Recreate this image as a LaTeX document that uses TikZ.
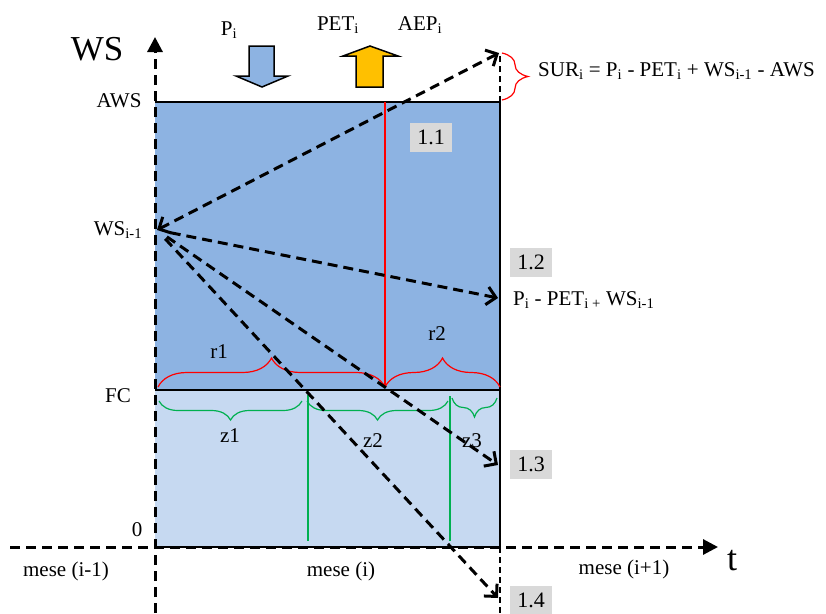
\documentclass[tikz,border=0pt]{standalone}
\usepackage{fontspec}
\setmainfont{Liberation Serif}
\usetikzlibrary{arrows.meta,decorations.pathreplacing}

\definecolor{wsdark}{HTML}{8DB3E2}
\definecolor{wslight}{HTML}{C6D9F1}
\definecolor{petorange}{HTML}{FFC000}
\definecolor{zgreen}{HTML}{00B050}
\definecolor{casegray}{HTML}{D9D9D9}

\tikzset{
  lbl/.style={font=\fontsize{21}{25}\selectfont, inner sep=0pt, anchor=base},
  case/.style={fill=casegray, minimum width=42pt, minimum height=29pt, inner sep=0pt, font=\fontsize{22}{26}\selectfont},
  flow/.style={line width=3pt, dash pattern=on 10pt off 6pt, ->},
  axis/.style={line width=3pt, dash pattern=on 10pt off 6pt, -{Triangle[length=15pt,width=15pt]}},
  rbrace/.style={red, line width=1.2pt, decorate, decoration={brace, amplitude=29pt}},
  gbrace/.style={zgreen, line width=1.2pt, decorate, decoration={brace, amplitude=19pt}},
  blockarrow/.style={draw, line width=1.5pt, line join=miter},
}

\begin{document}
\begin{tikzpicture}[x=1pt, y=-1pt, >={Straight Barb[length=9pt,width=18pt]}]
\useasboundingbox (0,0) rectangle (826,613);

% storage levels
\fill[wsdark] (155,102) rectangle (500,390);
\fill[wslight] (155,390) rectangle (500,547);

% axes
\coordinate (ybot) at (155,613);
\coordinate (ytop) at (155,37);
\coordinate (xleft) at (10,547);
\coordinate (xright) at (718,547);
\draw[axis] (ybot) -- (ytop);
\draw[axis] (xleft) -- (xright);

\draw[line width=2pt] (155,102) -- (500,102) -- (500,547) -- (155,547);
\draw[line width=2pt] (155,390) -- (500,390);
\draw[line width=1.5pt, dash pattern=on 6pt off 4pt] (500,102) -- (500,53);
\draw[line width=1.5pt, dash pattern=on 6pt off 4pt] (500,547) -- (500,613);

% red and green splits
\draw[red, line width=1.2pt] (385,102) -- (385,387);
\draw[zgreen, line width=1.2pt] (308,395) -- (308,541);
\draw[zgreen, line width=1.2pt] (450,396) -- (450,541);

\draw[rbrace] (158,387) -- (385,387);
\draw[rbrace] (385,387) -- (500,387);
\draw[gbrace] (302,401) -- (159,401);
\draw[gbrace] (448,401) -- (307,401);
\draw[gbrace] (497,398) -- (452,398);
\draw[rbrace, decoration={amplitude=26pt}] (502,53) -- (502,100);

\node[lbl] (r1) at (219,358) {r1};
\node[lbl] (r2) at (437,340) {r2};
\node[lbl] (z1) at (230,442) {z1};
\node[lbl] (z2) at (373,447) {z2};
\node[lbl] (z3) at (472,447) {z3};

% inflow and outflow
\draw[blockarrow, fill=wsdark] (249,46) -- (274,46) -- (274,76) -- (288,76) -- (262,87) -- (236,76) -- (249,76) -- cycle;
\draw[blockarrow, fill=petorange] (356,87) -- (383,87) -- (383,56) -- (398,56) -- (370,46) -- (343,56) -- (356,56) -- cycle;

\node[lbl] (pin) at (229,35) {P\textsubscript{i}};
\node[lbl] (pet) at (338,30) {PET\textsubscript{i}};
\node[lbl] (aep) at (420,30) {AEP\textsubscript{i}};

% axis labels
\node[lbl, font=\fontsize{35}{40}\selectfont] (wsaxis) at (97,60) {WS};
\node[lbl, font=\fontsize{36}{40}\selectfont] (taxis) at (732,570) {t};
\node[lbl] (aws) at (119,107) {AWS};
\node[lbl] (wsi) at (118,235) {WS\textsubscript{i-1}};
\node[lbl] (fc) at (118,402) {FC};
\node[lbl] (zero) at (137,536) {0};
\node[lbl] (mprev) at (66,576) {mese (i-1)};
\node[lbl] (mcur) at (341,576) {mese (i)};
\node[lbl] (mnext) at (624,574) {mese (i+1)};

% cases
\coordinate (wsprev) at (157,230);
\coordinate (e11) at (499,53);
\coordinate (e12) at (498,298);
\coordinate (e13) at (498,465);
\coordinate (e14) at (498,598);
\draw[flow, <->] (wsprev) -- (e11);
\draw[flow, shorten <=14pt] (wsprev) -- (e12);
\draw[flow, shorten <=12pt] (wsprev) -- (e13);
\draw[flow, shorten <=12pt] (wsprev) -- (e14);

\node[case] (c11) at (431,137) {1.1};
\node[case] (c12) at (531,262) {1.2};
\node[case] (c13) at (531,464) {1.3};
\node[case] (c14) at (531,600) {1.4};

\node[lbl, anchor=base west] (sur) at (538,76) {SUR\textsubscript{i} = P\textsubscript{i} - PET\textsubscript{i} + WS\textsubscript{i-1} - AWS};
\node[lbl, anchor=base west] (bal) at (513,305) {P\textsubscript{i} - PET\textsubscript{i +} WS\textsubscript{i-1}};

\end{tikzpicture}
\end{document}
